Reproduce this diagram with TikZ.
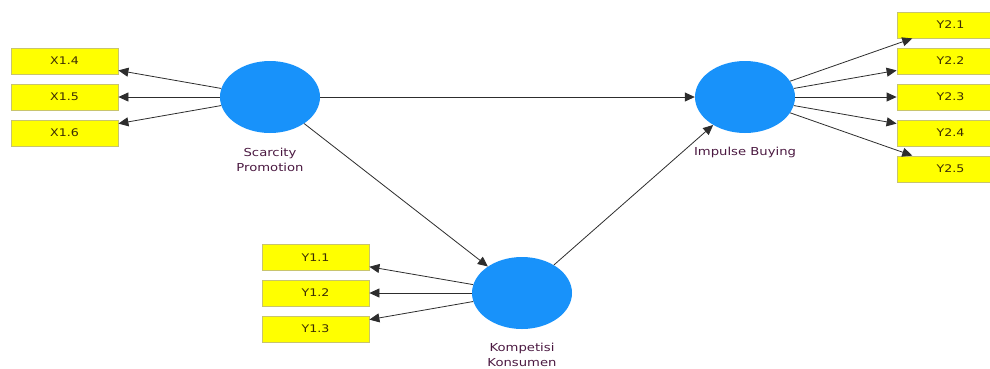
\documentclass[tikz,border=0pt]{standalone}
\usepackage{fontspec}
\setmainfont{DejaVu Sans}
\usetikzlibrary{shapes.geometric,arrows.meta}
\definecolor{latent}{RGB}{24,146,250}
\definecolor{indfill}{RGB}{255,255,0}
\definecolor{inddraw}{RGB}{200,196,110}
\definecolor{indtext}{RGB}{60,45,5}
\definecolor{lvtext}{RGB}{75,25,65}
\definecolor{arr}{RGB}{45,45,45}
\newcommand\wlbl[1]{\scalebox{1.2}[1]{#1}}
\begin{document}
\begin{tikzpicture}[x=1pt,y=-1pt,
  lv/.style={ellipse,fill=latent,draw=none,minimum width=100pt,minimum height=72pt,inner sep=0pt},
  ind/.style={rectangle,fill=indfill,draw=inddraw,line width=0.8pt,minimum width=107pt,minimum height=26pt,inner sep=0pt,text=indtext,font=\fontsize{10.5}{12}\selectfont},
  lvlab/.style={text=lvtext,font=\fontsize{11}{15}\selectfont,align=center,inner sep=0pt},
  conn/.style={draw=arr,line width=0.8pt,-{Triangle[length=10pt,width=9pt]}}]
\useasboundingbox (0,0) rectangle (990,368);
\clip (0,0) rectangle (990,368);
% latent variables
\node[lv] (sp) at (270,97) {};
\node[lv] (ib) at (745,97) {};
\node[lv] (kk) at (522,293) {};
\node[lvlab] (spl) at (270,160) {\wlbl{Scarcity}\\\wlbl{Promotion}};
\node[lvlab] (ibl) at (745,152) {\wlbl{Impulse Buying}};
\node[lvlab] (kkl) at (522,355) {\wlbl{Kompetisi}\\\wlbl{Konsumen}};
% indicators
\node[ind] (x14) at (64.5,61) {\wlbl{X1.4}};
\node[ind] (x15) at (64.5,97) {\wlbl{X1.5}};
\node[ind] (x16) at (64.5,133) {\wlbl{X1.6}};
\node[ind] (y11) at (315.5,257.5) {\wlbl{Y1.1}};
\node[ind] (y12) at (315.5,293) {\wlbl{Y1.2}};
\node[ind] (y13) at (315.5,329) {\wlbl{Y1.3}};
\node[ind] (y21) at (950.5,25) {\wlbl{Y2.1}};
\node[ind] (y22) at (950.5,61) {\wlbl{Y2.2}};
\node[ind] (y23) at (950.5,97) {\wlbl{Y2.3}};
\node[ind] (y24) at (950.5,133) {\wlbl{Y2.4}};
\node[ind] (y25) at (950.5,169) {\wlbl{Y2.5}};
% structural paths
\draw[conn] (sp) -- (ib);
\draw[conn] (sp) -- (kk);
\draw[conn] (kk) -- (ib);
% measurement paths
\foreach \t in {x14,x15,x16} \draw[conn] (sp) -- (\t);
\foreach \t in {y11,y12,y13} \draw[conn] (kk) -- (\t);
\foreach \t in {y21,y22,y23,y24,y25} \draw[conn] (ib) -- (\t);
\end{tikzpicture}
\end{document}
